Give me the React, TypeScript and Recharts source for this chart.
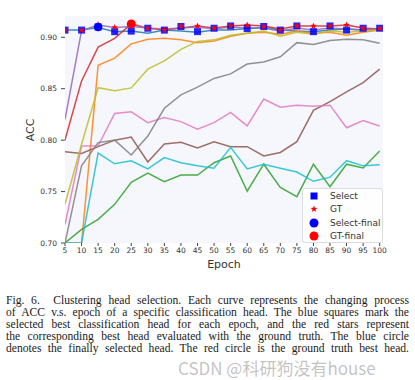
import React from "react";
import { ComposedChart, Line, XAxis, YAxis, CartesianGrid } from "recharts";

const epochs = [5, 10, 15, 20, 25, 30, 35, 40, 45, 50, 55, 60, 65, 70, 75, 80, 85, 90, 95, 100];

const headBlue = [0.907, 0.907, 0.9095, 0.9055, 0.906, 0.904, 0.907, 0.906, 0.905, 0.907, 0.907, 0.9085, 0.9095, 0.907, 0.906, 0.9055, 0.907, 0.908, 0.907, 0.9075];
const headOrange = [0.7, 0.7, 0.8727, 0.8797, 0.8936, 0.898, 0.899, 0.8975, 0.8948, 0.8965, 0.901, 0.904, 0.905, 0.903, 0.906, 0.904, 0.905, 0.902, 0.905, 0.907];
const headGreen = [0.7, 0.7133, 0.723, 0.7376, 0.759, 0.768, 0.7597, 0.766, 0.766, 0.778, 0.7846, 0.7505, 0.7766, 0.754, 0.745, 0.7766, 0.7548, 0.7766, 0.773, 0.7895];
const headRed = [0.8, 0.8576, 0.8904, 0.899, 0.913, 0.9088, 0.907, 0.909, 0.911, 0.909, 0.911, 0.912, 0.911, 0.908, 0.911, 0.911, 0.911, 0.912, 0.909, 0.908];
const headPurple = [0.8203, 0.9065, 0.912, 0.9095, 0.9105, 0.909, 0.908, 0.909, 0.91, 0.908, 0.91, 0.909, 0.909, 0.906, 0.909, 0.907, 0.909, 0.908, 0.907, 0.908];
const headBrown = [0.7888, 0.787, 0.7937, 0.8, 0.803, 0.7788, 0.7963, 0.798, 0.7924, 0.7985, 0.7937, 0.7937, 0.7846, 0.788, 0.7985, 0.829, 0.8375, 0.847, 0.856, 0.869];
const headPink = [0.718, 0.7944, 0.7945, 0.826, 0.8275, 0.817, 0.822, 0.818, 0.8106, 0.817, 0.827, 0.8138, 0.84, 0.832, 0.834, 0.833, 0.834, 0.812, 0.819, 0.8138];
const headGray = [0.7, 0.775, 0.7976, 0.8, 0.7856, 0.804, 0.831, 0.844, 0.8515, 0.86, 0.8644, 0.874, 0.876, 0.881, 0.8948, 0.893, 0.8968, 0.898, 0.8975, 0.8943];
const headOlive = [0.7376, 0.796, 0.851, 0.848, 0.8508, 0.869, 0.877, 0.8882, 0.896, 0.8975, 0.902, 0.904, 0.906, 0.901, 0.905, 0.903, 0.906, 0.905, 0.906, 0.907];
const headCyan = [0.7, 0.7, 0.7875, 0.777, 0.78, 0.772, 0.783, 0.778, 0.775, 0.7727, 0.793, 0.772, 0.7766, 0.7727, 0.769, 0.76, 0.764, 0.78, 0.775, 0.776];

const selectVals = [0.907, 0.907, 0.91, 0.9055, 0.906, 0.9088, 0.907, 0.9105, 0.9055, 0.9088, 0.911, 0.9085, 0.9105, 0.907, 0.911, 0.9055, 0.911, 0.907, 0.9088, 0.9088];
const gtVals = [0.907, 0.907, 0.9125, 0.9095, 0.913, 0.9088, 0.907, 0.9105, 0.911, 0.9088, 0.911, 0.912, 0.9105, 0.907, 0.911, 0.911, 0.911, 0.912, 0.9088, 0.9088];
const selectFinalEpoch = 15;
const selectFinalValue = 0.91;
const gtFinalEpoch = 25;
const gtFinalValue = 0.913;

const yTicks = [0.7, 0.75, 0.8, 0.85, 0.9];

const heads = [
  { key: "h0", vals: headBlue, color: "#1f77b4" },
  { key: "h1", vals: headOrange, color: "#ff7f0e" },
  { key: "h2", vals: headGreen, color: "#2ca02c" },
  { key: "h3", vals: headRed, color: "#d62728" },
  { key: "h4", vals: headPurple, color: "#9467bd" },
  { key: "h5", vals: headBrown, color: "#8c564b" },
  { key: "h6", vals: headPink, color: "#e377c2" },
  { key: "h7", vals: headGray, color: "#7f7f7f" },
  { key: "h8", vals: headOlive, color: "#bcbd22" },
  { key: "h9", vals: headCyan, color: "#17becf" },
];

const data = epochs.map((e, i) => {
  const row: any = { epoch: e, select: selectVals[i], gt: gtVals[i] };
  heads.forEach((h) => (row[h.key] = h.vals[i]));
  row.selectFinal = e === selectFinalEpoch ? selectFinalValue : null;
  row.gtFinal = e === gtFinalEpoch ? gtFinalValue : null;
  return row;
});

function starPath(cx: number, cy: number, r: number) {
  const pts: string[] = [];
  for (let i = 0; i < 10; i++) {
    const rr = i % 2 === 0 ? r : r * 0.42;
    const a = -Math.PI / 2 + (i * Math.PI) / 5;
    pts.push(`${cx + rr * Math.cos(a)},${cy + rr * Math.sin(a)}`);
  }
  return "M" + pts.join("L") + "Z";
}

const SquareDot = (p: any) => {
  if (p.cx == null || p.cy == null || p.value == null) return <g key={p.index} />;
  return <rect key={p.index} x={p.cx - 3.5} y={p.cy - 3.5} width={7} height={7} fill="#0000ff" fillOpacity={0.85} />;
};
const StarDot = (p: any) => {
  if (p.cx == null || p.cy == null || p.value == null) return <g key={p.index} />;
  return <path key={p.index} d={starPath(p.cx, p.cy, 3.4)} fill="#ff0000" />;
};
const BlueCircle = (p: any) => {
  if (p.cx == null || p.cy == null || p.value == null) return <g key={p.index} />;
  return <circle key={p.index} cx={p.cx} cy={p.cy} r={4.3} fill="#0000ff" />;
};
const RedCircle = (p: any) => {
  if (p.cx == null || p.cy == null || p.value == null) return <g key={p.index} />;
  return <circle key={p.index} cx={p.cx} cy={p.cy} r={4.5} fill="#ff0000" />;
};

const captionLines = [
  "Fig. 6.\u00a0\u00a0Clustering head selection. Each curve represents the changing process",
  "of ACC v.s. epoch of a specific classification head. The blue squares mark the",
  "selected best classification head for each epoch, and the red stars represent",
  "the corresponding best head evaluated with the ground truth. The blue circle",
  "denotes the finally selected head. The red circle is the ground truth best head.",
];

const legendItems = [
  { label: "Select", kind: "square" },
  { label: "GT", kind: "star" },
  { label: "Select-final", kind: "bcircle" },
  { label: "GT-final", kind: "rcircle" },
];

const font = "'DejaVu Sans', sans-serif";

export default function App() {
  return (
    <div style={{ position: "absolute", left: 0, top: 0, width: 415, height: 380, background: "#fff", overflow: "hidden" }}>
      <ComposedChart width={415} height={273} data={data} margin={{ top: 16, right: 32, left: 8, bottom: 0 }}>
        <CartesianGrid horizontal={false} vertical={false} fill="#f6f7fd" stroke="none" />
        <XAxis
          dataKey="epoch"
          type="number"
          domain={[5, 101]}
          ticks={epochs}
          interval={0}
          allowDataOverflow
          axisLine={false}
          tickLine={{ stroke: "#444" }}
          tickSize={3}
          tickMargin={2}
          height={30}
          tick={{ fontSize: 7.5, fill: "#333", fontFamily: font }}
        />
        <YAxis
          type="number"
          domain={[0.7, 0.9207]}
          ticks={yTicks}
          allowDataOverflow
          axisLine={false}
          tickLine={{ stroke: "#444" }}
          tickSize={4}
          tickMargin={4}
          width={57}
          tickFormatter={(v: number) => v.toFixed(2)}
          tick={{ fontSize: 7.5, fill: "#333", fontFamily: font }}
        />
        {heads.map((h) => (
          <Line
            key={h.key}
            dataKey={h.key}
            stroke={h.color}
            strokeOpacity={0.85}
            strokeWidth={1.5}
            dot={false}
            activeDot={false}
            isAnimationActive={false}
            type="linear"
          />
        ))}
        <Line dataKey="select" stroke="none" dot={SquareDot} activeDot={false} isAnimationActive={false} />
        <Line dataKey="gt" stroke="none" dot={StarDot} activeDot={false} isAnimationActive={false} />
        <Line dataKey="selectFinal" stroke="none" dot={BlueCircle} activeDot={false} isAnimationActive={false} />
        <Line dataKey="gtFinal" stroke="none" dot={RedCircle} activeDot={false} isAnimationActive={false} />
      </ComposedChart>

      <div
        style={{
          position: "absolute",
          left: 31,
          top: 130,
          transform: "translate(-50%, -50%) rotate(-90deg)",
          fontFamily: font,
          fontSize: 11,
          color: "#333",
          whiteSpace: "nowrap",
          lineHeight: "12px",
        }}
      >
        ACC
      </div>
      <div
        style={{
          position: "absolute",
          left: 224,
          top: 265,
          transform: "translate(-50%, -50%)",
          fontFamily: font,
          fontSize: 11,
          color: "#333",
          whiteSpace: "nowrap",
          lineHeight: "12px",
        }}
      >
        Epoch
      </div>

      <div
        style={{
          position: "absolute",
          left: 302,
          top: 188,
          width: 81,
          height: 55,
          boxSizing: "border-box",
          border: "1px solid #dcdcdc",
          borderRadius: 3,
          background: "rgba(255,255,255,0.85)",
        }}
      >
        {legendItems.map((it, i) => {
          const cy = 7 + i * 13.3;
          return (
            <div key={it.label}>
              <svg style={{ position: "absolute", left: 5, top: cy - 6 }} width={12} height={12}>
                {it.kind === "square" && <rect x={2.5} y={2.5} width={7} height={7} fill="#0000ff" />}
                {it.kind === "star" && <path d={starPath(6, 6, 3.6)} fill="#ff0000" />}
                {it.kind === "bcircle" && <circle cx={6} cy={6} r={4.5} fill="#0000ff" />}
                {it.kind === "rcircle" && <circle cx={6} cy={6} r={4.5} fill="#ff0000" />}
              </svg>
              <div
                style={{
                  position: "absolute",
                  left: 27,
                  top: cy - 6,
                  height: 12,
                  lineHeight: "12px",
                  fontFamily: font,
                  fontSize: 9,
                  color: "#333",
                  whiteSpace: "nowrap",
                }}
              >
                {it.label}
              </div>
            </div>
          );
        })}
      </div>

      <div style={{ position: "absolute", left: 6, top: 294.6, width: 403 }}>
        {captionLines.map((l, i) => (
          <div
            key={i}
            style={{
              fontFamily: "'Liberation Serif', 'Times New Roman', serif",
              fontSize: 11.6,
              lineHeight: "12.15px",
              height: 12.15,
              color: "#1a1a1a",
              textAlign: "justify",
              textAlignLast: "justify",
              whiteSpace: "nowrap",
            }}
          >
            {l}
          </div>
        ))}
      </div>

      <div
        style={{
          position: "absolute",
          left: 178,
          top: 359,
          fontFamily: "'Noto Sans CJK SC', sans-serif",
          fontSize: 17,
          lineHeight: "18px",
          color: "rgba(120,120,120,0.45)",
          whiteSpace: "nowrap",
        }}
      >
        CSDN @科研狗没有house
      </div>
    </div>
  );
}
